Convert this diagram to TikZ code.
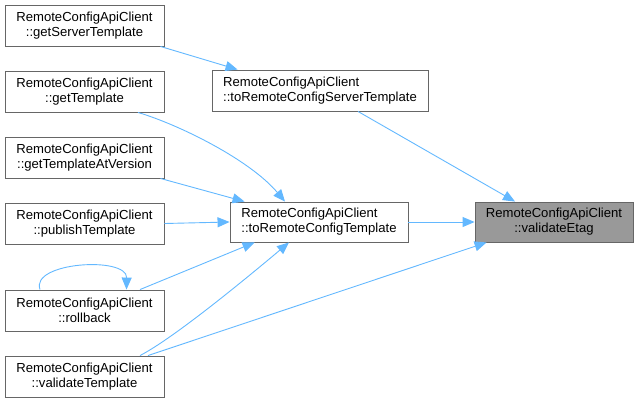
\documentclass[tikz,border=0pt]{standalone}
\usepackage{fontspec}
\setmainfont{Liberation Sans}
\usetikzlibrary{arrows.meta,calc}
\definecolor{edgeblue}{HTML}{63B8FF}
\definecolor{boxgray}{HTML}{666666}
\definecolor{hlfill}{HTML}{999999}
\begin{document}
\begin{tikzpicture}[x=1pt,y=-1pt,
  fn/.style={draw=boxgray,line width=0.9pt,fill=white,inner sep=0pt,
    font=\fontsize{13.1}{15}\selectfont,minimum height=41pt},
  leftfn/.style={fn,minimum width=159pt,align=center},
  midfn/.style={fn,align=left},
  hl/.style={fn,fill=hlfill,align=center,minimum width=158pt,minimum height=40pt},
  call/.style={draw=edgeblue,line width=0.9pt,-{Triangle[length=12pt,width=10pt]}}]
\useasboundingbox (0,0) rectangle (639,402);
% left column
\node[leftfn] (gst) at (84.5,25.5) {RemoteConfigApiClient\\::getServerTemplate};
\node[leftfn] (gt) at (84.5,91.5) {RemoteConfigApiClient\\::getTemplate};
\node[leftfn] (gtav) at (84.5,157.5) {RemoteConfigApiClient\\::getTemplateAtVersion};
\node[leftfn] (pt) at (84.5,223.5) {RemoteConfigApiClient\\::publishTemplate};
\node[leftfn] (rb) at (84.5,310.5) {RemoteConfigApiClient\\::rollback};
\node[leftfn] (vt) at (84.5,376.5) {RemoteConfigApiClient\\::validateTemplate};
% middle column
\node[midfn,minimum width=216pt] (trcst) at (320,90.5) {RemoteConfigApiClient\\::toRemoteConfigServerTemplate};
\node[midfn,minimum width=178pt,minimum height=40pt] (trct) at (319,222) {RemoteConfigApiClient\\::toRemoteConfigTemplate};
% right
\node[hl] (ve) at (554,222) {RemoteConfigApiClient\\::validateEtag};
% edges
\draw[call] ([xshift=-4pt]gst.south east) -- ([xshift=26pt]trcst.north west);
\draw[call] ([xshift=38pt]trcst.south) -- ([xshift=-39pt]ve.north);
\draw[call] ([xshift=53.5pt]gt.south) .. controls (180,125) and (250,160) .. ([xshift=-34pt]trct.north);
\draw[call] ([xshift=-4pt]gtav.south east) -- ([xshift=15pt]trct.north west);
\draw[call] (pt.east) -- (trct.west);
\draw[call] ([xshift=55.5pt]rb.north) -- ([xshift=25pt]trct.south west);
\draw[call] ([xshift=55.5pt]vt.north) .. controls (170,340) and (230,292) .. ([xshift=-30pt]trct.south);
\draw[call] ([xshift=63.5pt]vt.north) -- ([xshift=12pt]ve.south west);
\draw[call] (trct.east) -- (ve.west);
\draw[call] ([xshift=-44.5pt]rb.north) .. controls (30,262) and (127,256) .. ([xshift=42pt]rb.north);
\end{tikzpicture}
\end{document}
